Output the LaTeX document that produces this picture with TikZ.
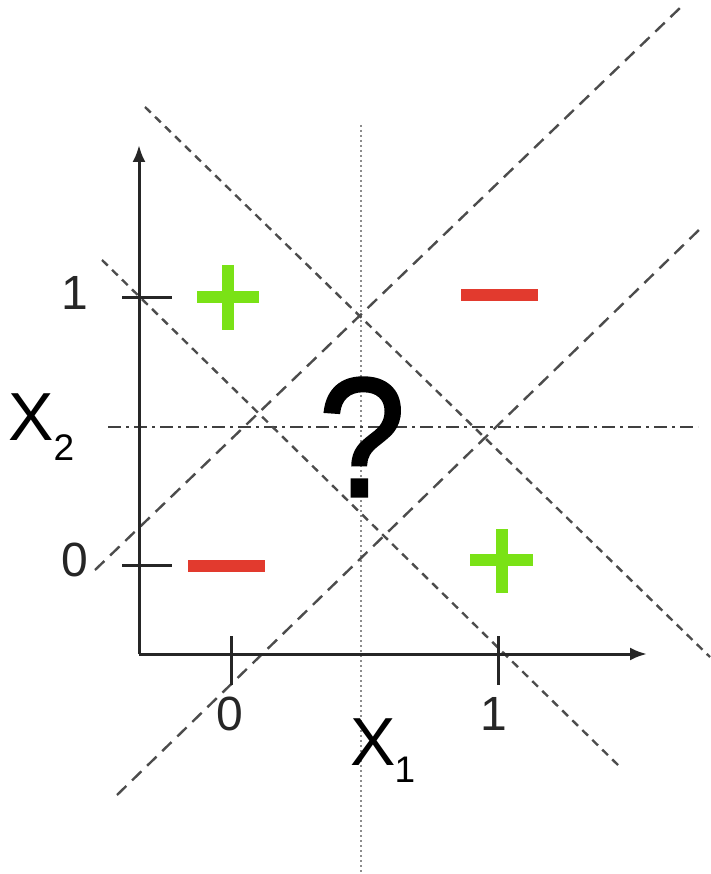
\documentclass[tikz,border=0pt]{standalone}
\usepackage{fontspec}
\setmainfont{Liberation Sans}
\newfontfamily\qfont[FakeBold=1.6]{Liberation Sans}
\usetikzlibrary{arrows.meta}
\definecolor{pgreen}{RGB}{122,226,22}
\definecolor{nred}{RGB}{226,58,46}
\begin{document}
\begin{tikzpicture}[x=1pt,y=-1pt,
  axis/.style={line width=3pt,black!85,-{Latex[length=17pt,width=13pt]}},
  tickline/.style={line width=3pt,black!85},
  longdash/.style={line width=2.4pt,black!70,dash pattern=on 13pt off 8pt},
  shortdash/.style={line width=2.4pt,black!70,dash pattern=on 8pt off 6pt},
  dotline/.style={line width=2.2pt,black!45,dash pattern=on 2pt off 3pt},
  dashdotline/.style={line width=2.5pt,black!75,dash pattern=on 13pt off 5pt on 3pt off 5pt},
  lab/.style={font=\fontsize{48}{48}\selectfont,text=black!85,inner sep=0pt},
  axlab/.style={font=\fontsize{68}{68}\selectfont,text=black,inner sep=0pt},
  sublab/.style={font=\fontsize{37}{37}\selectfont,text=black,inner sep=0pt},
  plusbar/.style={line width=12pt,pgreen},
  minusbar/.style={line width=12pt,nred}]
\useasboundingbox (0,0) rectangle (710,874);
% reference lines
\coordinate (dt) at (361,125); \coordinate (db) at (361,874);
\draw[dotline] (dt) -- (db);
\coordinate (hl) at (108,427); \coordinate (hr) at (698,427);
\draw[dashdotline] (hl) -- (hr);
\coordinate (a1) at (95,570); \coordinate (a2) at (681,7);
\draw[longdash] (a1) -- (a2);
\coordinate (b1) at (117,795); \coordinate (b2) at (702,227);
\draw[longdash] (b1) -- (b2);
\coordinate (c1) at (145,107); \coordinate (c2) at (710,657);
\draw[shortdash] (c1) -- (c2);
\coordinate (d1) at (102,260); \coordinate (d2) at (618,765);
\draw[shortdash] (d1) -- (d2);
% axes
\coordinate (o) at (139,654);
\coordinate (yt) at (139,145);
\coordinate (xt) at (647,654);
\draw[axis] (o) -- (yt);
\draw[axis] (o) -- (xt);
% ticks
\coordinate (ty1a) at (122,297); \coordinate (ty1b) at (172,297);
\draw[tickline] (ty1a) -- (ty1b);
\coordinate (ty0a) at (122,565); \coordinate (ty0b) at (172,565);
\draw[tickline] (ty0a) -- (ty0b);
\coordinate (tx0a) at (231,636); \coordinate (tx0b) at (231,685);
\draw[tickline] (tx0a) -- (tx0b);
\coordinate (tx1a) at (498,636); \coordinate (tx1b) at (498,685);
\draw[tickline] (tx1a) -- (tx1b);
% tick labels
\node[lab] (ly1) at (75,293) {1};
\node[lab] (ly0) at (75,560) {0};
\node[lab] (lx0) at (230,714) {0};
\node[lab] (lx1) at (494,714) {1};
% axis labels
\node[axlab] (X2) at (31,417) {X};
\node[sublab] (X2s) at (64,448) {2};
\node[axlab] (X1) at (373,742) {X};
\node[sublab] (X1s) at (405,770) {1};
% signs
\coordinate (p1l) at (197,297); \coordinate (p1r) at (259,297);
\coordinate (p1t) at (228,265); \coordinate (p1b) at (228,330);
\draw[plusbar] (p1l) -- (p1r); \draw[plusbar] (p1t) -- (p1b);
\coordinate (p2l) at (470,560); \coordinate (p2r) at (533,560);
\coordinate (p2t) at (502,529); \coordinate (p2b) at (502,593);
\draw[plusbar] (p2l) -- (p2r); \draw[plusbar] (p2t) -- (p2b);
\coordinate (m1l) at (461,295); \coordinate (m1r) at (538,295);
\draw[minusbar] (m1l) -- (m1r);
\coordinate (m2l) at (188,566); \coordinate (m2r) at (265,566);
\draw[minusbar] (m2l) -- (m2r);
% question mark
\node[inner sep=0pt,xscale=0.92,font=\qfont\fontsize{170}{170}\selectfont] (q) at (362,437) {?};
\end{tikzpicture}
\end{document}
